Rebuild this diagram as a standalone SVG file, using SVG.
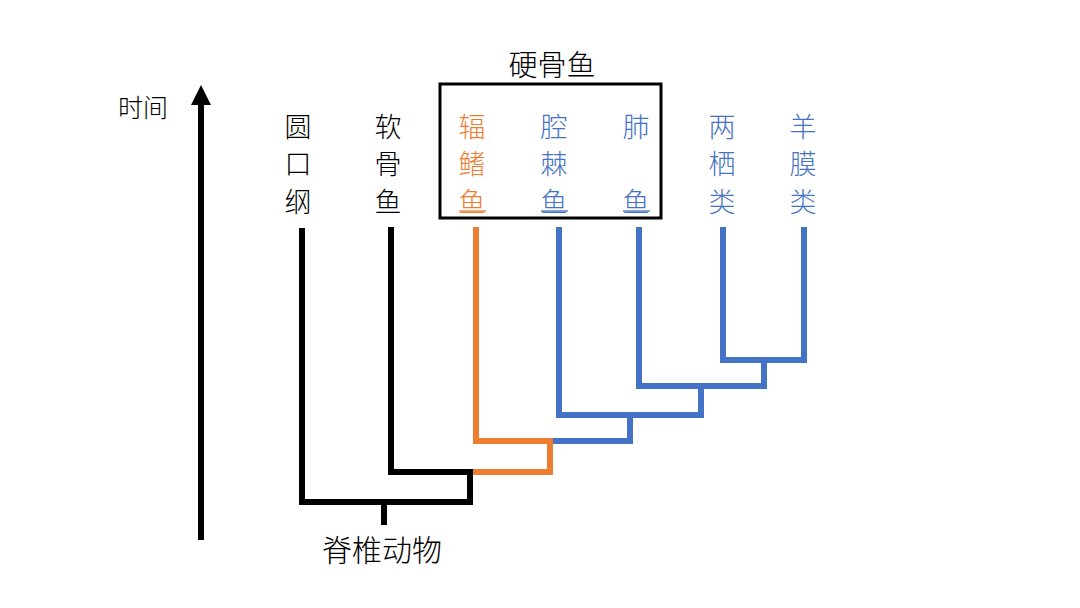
<svg xmlns="http://www.w3.org/2000/svg" width="1080" height="608" viewBox="0 0 1080 608">
<style>
.t{font-family:"Noto Sans CJK SC","Noto Sans",sans-serif;font-size:27px;font-weight:300;text-anchor:middle;dominant-baseline:central}
.k{fill:#000}
.o{fill:#ED7D31}
.b{fill:#4472C4}
.ln{fill:none;stroke-width:6;stroke-linejoin:miter;stroke-linecap:butt}
.lk{stroke:#000}
.lo{stroke:#ED7D31}
.lb{stroke:#4472C4}
.ul{stroke-width:1.3}
</style>
<rect width="1080" height="608" fill="#fff"/>
<g id="time-axis">
<line x1="201" y1="540" x2="201" y2="102" stroke="#000" stroke-width="6"/>
<polygon points="201,85 191,105 211,105" fill="#000"/>
<text class="t k" x="143" y="106" style="font-size:25px">时间</text>
</g>
<g id="bony-fish-box">
<rect x="440" y="84" width="221" height="134" fill="none" stroke="#000" stroke-width="3"/>
<text class="t k" x="552" y="63" style="font-size:29px">硬骨鱼</text>
</g>
<g id="n-cyclostomata">
<text class="t k" x="298" y="125">圆</text>
<text class="t k" x="298" y="162">口</text>
<text class="t k" x="298" y="200">纲</text>
</g>
<g id="n-chondrichthyes">
<text class="t k" x="388" y="125">软</text>
<text class="t k" x="388" y="162">骨</text>
<text class="t k" x="388" y="200">鱼</text>
</g>
<g id="n-actinopterygii">
<text class="t o" x="472" y="125">辐</text>
<text class="t o" x="472" y="162">鳍</text>
<text class="t o" x="472" y="200">鱼</text>
<line class="ul" x1="459" y1="211" x2="486" y2="211" stroke="#ED7D31"/>
</g>
<g id="n-coelacanth">
<text class="t b" x="554" y="125">腔</text>
<text class="t b" x="554" y="162">棘</text>
<text class="t b" x="554" y="200">鱼</text>
<line class="ul" x1="541" y1="211" x2="568" y2="211" stroke="#4472C4"/>
</g>
<g id="n-lungfish">
<text class="t b" x="636" y="125">肺</text>
<text class="t b" x="636" y="200">鱼</text>
<line class="ul" x1="623" y1="211" x2="650" y2="211" stroke="#4472C4"/>
</g>
<g id="n-amphibia">
<text class="t b" x="722" y="125">两</text>
<text class="t b" x="722" y="162">栖</text>
<text class="t b" x="722" y="200">类</text>
</g>
<g id="n-amniota">
<text class="t b" x="803" y="125">羊</text>
<text class="t b" x="803" y="162">膜</text>
<text class="t b" x="803" y="200">类</text>
</g>
<g id="n-vertebrata">
<text class="t k" x="382" y="548" style="font-size:30px">脊椎动物</text>
</g>
<g id="connectors">
<polyline class="ln lb" points="723,227 723,360 804,360 804,227"/>
<polyline class="ln lb" points="764,360 764,386"/>
<polyline class="ln lb" points="639,227 639,386 701,386"/>
<polyline class="ln lb" points="701,386 767,386"/>
<polyline class="ln lb" points="701,386 701,415 559,415 559,227"/>
<polyline class="ln lb" points="630,415 630,441 550,441"/>
<polyline class="ln lo" points="476,227 476,441 553,441"/>
<polyline class="ln lo" points="550,441 550,472 473,472"/>
<polyline class="ln lk" points="391,227 391,472 473,472"/>
<polyline class="ln lk" points="302,228 302,502 470,502 470,469"/>
<line class="ln lk" x1="384" y1="502" x2="384" y2="525"/>
</g>
</svg>
